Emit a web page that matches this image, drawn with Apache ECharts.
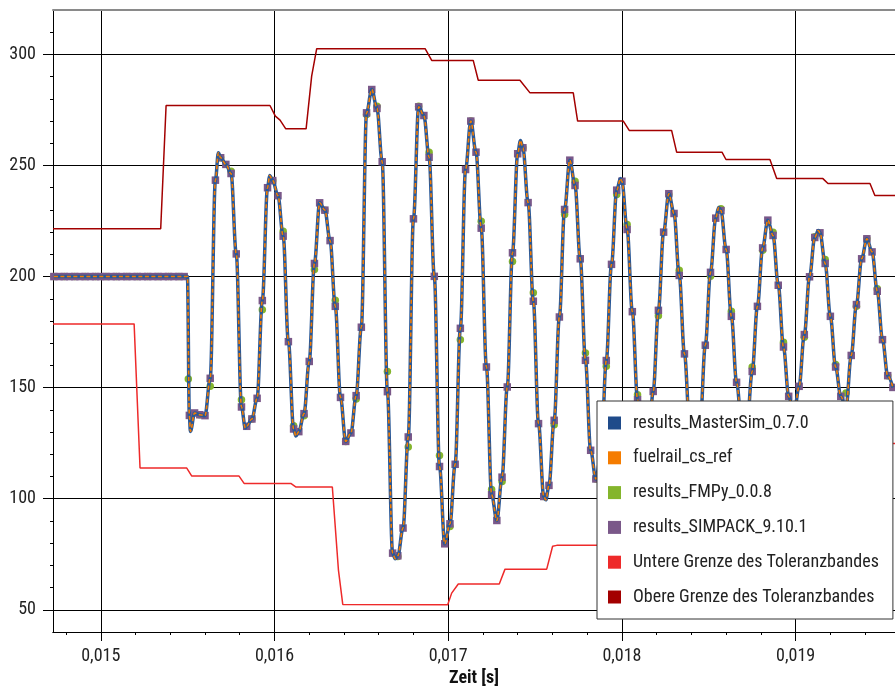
<!DOCTYPE html>
<html>
<head>
<meta charset="utf-8">
<script src="https://cdn.jsdelivr.net/npm/echarts@6/dist/echarts.min.js"></script>
<style>
  html, body { margin: 0; padding: 0; background: #fff; }
  #chart { width: 895px; height: 686px; }
</style>
</head>
<body>
<div id="chart"></div>
<script>
const FONT = '"Liberation Sans Narrow", "Roboto Condensed", Roboto, sans-serif'

// axis ticks
const xMajor = [0.015, 0.016, 0.017, 0.018, 0.019]
const xMinor = [0.0148, 0.0150, 0.0152, 0.0154, 0.0156, 0.0158, 0.0160, 0.0162, 0.0164, 0.0166, 0.0168, 0.0170,
  0.0172, 0.0174, 0.0176, 0.0178, 0.0180, 0.0182, 0.0184, 0.0186, 0.0188, 0.0190, 0.0192, 0.0194]
const yMajor = [50, 100, 150, 200, 250, 300]
const yMinor = [50, 60, 70, 80, 90, 100, 110, 120, 130, 140, 150, 160, 170, 180, 190, 200, 210, 220, 230, 240,
  250, 260, 270, 280, 290, 300, 310]
const cursorX = 0.017

// SIMPACK samples (squares)
const simT = [0.01473, 0.01476, 0.01479, 0.01482, 0.01485, 0.01488, 0.01491, 0.01494, 0.01497, 0.015, 0.01503,
  0.01506, 0.01509, 0.01512, 0.01515, 0.01518, 0.01521, 0.01524, 0.01527, 0.0153, 0.01533, 0.01536, 0.01539,
  0.01542, 0.01545, 0.01548,
  0.01551, 0.01554, 0.01557, 0.0156, 0.01563, 0.01566, 0.01569, 0.01572, 0.01575, 0.01578,
  0.01581, 0.01584, 0.01587, 0.0159, 0.01593, 0.01596, 0.01599, 0.01602, 0.01605, 0.01608,
  0.01611, 0.01614, 0.01617, 0.0162, 0.01623, 0.01626, 0.01629, 0.01632, 0.01635, 0.01638,
  0.01641, 0.01644, 0.01647, 0.0165, 0.01653, 0.01656, 0.01659, 0.01662, 0.01665, 0.01668,
  0.01671, 0.01674, 0.01677, 0.0168, 0.01683, 0.01686, 0.01689, 0.01692, 0.01695, 0.01698,
  0.01701, 0.01704, 0.01707, 0.0171, 0.01713, 0.01716, 0.01719, 0.01722, 0.01725, 0.01728,
  0.01731, 0.01734, 0.01737, 0.0174, 0.01743, 0.01746, 0.01749, 0.01752, 0.01755, 0.01758,
  0.01761, 0.01764, 0.01767, 0.0177, 0.01773, 0.01776, 0.01779, 0.01782, 0.01785, 0.01788,
  0.01791, 0.01794, 0.01797, 0.018, 0.01803, 0.01806, 0.01809, 0.01812, 0.01815, 0.01818,
  0.01821, 0.01824, 0.01827, 0.0183, 0.01833, 0.01836, 0.01839, 0.01842, 0.01845, 0.01848,
  0.01851, 0.01854, 0.01857, 0.0186, 0.01863, 0.01866, 0.01869, 0.01872, 0.01875, 0.01878,
  0.01881, 0.01884, 0.01887, 0.0189, 0.01893, 0.01896, 0.01899, 0.01902, 0.01905, 0.01908,
  0.01911, 0.01914, 0.01917, 0.0192, 0.01923, 0.01926, 0.01929, 0.01932, 0.01935, 0.01938,
  0.01941, 0.01944, 0.01947, 0.0195, 0.01953, 0.01956]
const simV = [200, 200, 200, 200, 200, 200, 200, 200, 200, 200, 200, 200, 200, 200, 200, 200, 200, 200, 200, 200,
  200, 200, 200, 200, 200, 200,
  137.5, 138.6, 137.8, 137.4, 154.2, 243.4, 253.5, 250.5, 246.4, 210.2,
  141.3, 132.6, 135.9, 145.2, 189.2, 240.0, 243.2, 236.4, 218.2, 170.7,
  131.4, 130.2, 138.3, 161.8, 205.9, 233.2, 229.9, 216.2, 186.6, 145.6,
  125.8, 129.6, 146.4, 177.2, 273.7, 284.2, 275.7, 251.7, 148.2, 75.5,
  74.3, 86.8, 127.8, 226.0, 276.4, 272.5, 253.7, 200.1, 114.5, 79.7,
  88.7, 115.5, 176.7, 248.2, 270.0, 256.0, 221.8, 159.3, 101.8, 90.2,
  109.7, 150.3, 210.7, 255.3, 258.0, 233.3, 188.9, 133.8, 101.0, 106.0,
  135.3, 181.8, 230.2, 252.4, 241.0, 208.0, 162.3, 121.8, 108.9, 119.8,
  162.2, 205.5, 238.9, 242.9, 221.2, 184.2, 144.6, 119.8, 121.2, 148.3,
  184.8, 220.0, 237.3, 228.4, 200.5, 165.2, 133.3, 122.5, 133.3, 169.1,
  201.9, 226.3, 229.7, 212.2, 182.1, 152.4, 133.3, 133.3, 157.3, 186.6,
  212.9, 225.4, 218.5, 196.1, 168.3, 146.1, 137.8, 150.6, 173.9, 199.9,
  217.6, 219.7, 205.9, 182.1, 159.3, 146.1, 141.0, 164.5, 187.4, 208.0,
  217.0, 211.1, 193.4, 171.6, 155.4, 150.1]

// extra turning points of the reference curve between samples
const peakT = [0.015499, 0.015516, 0.015677, 0.015832, 0.015972, 0.016123, 0.016695, 0.017416, 0.017562,
  0.017992, 0.018557, 0.019131]
const peakV = [200, 130.3, 255.7, 131.8, 245.5, 128.2, 73.0, 261.3, 99.5, 244.1, 231.1, 220.7]

// FMPy samples (dots)
const fmpyT = [0.01473, 0.01479, 0.01485, 0.01491, 0.01497, 0.01503, 0.01509, 0.01515, 0.01521, 0.01527, 0.01533,
  0.01539, 0.01545,
  0.015504, 0.01557, 0.01563, 0.01569, 0.01575, 0.01581, 0.01587, 0.01593, 0.01599, 0.01605,
  0.01611, 0.01617, 0.01623, 0.01629, 0.01635, 0.01641, 0.01647, 0.01653, 0.01659, 0.01665,
  0.01671, 0.01677, 0.01683, 0.01689, 0.01695, 0.01701, 0.01707, 0.01713, 0.01719, 0.01725,
  0.01731, 0.01737, 0.01743, 0.01749, 0.01755, 0.01761, 0.01767, 0.01773, 0.01779, 0.01785,
  0.01791, 0.01797, 0.01803, 0.01809, 0.01815, 0.01821, 0.01827, 0.01833, 0.01839, 0.01845,
  0.01851, 0.01857, 0.01863, 0.01869, 0.01875, 0.01881, 0.01887, 0.01893, 0.01899, 0.01905,
  0.01911, 0.01917, 0.01923, 0.01929, 0.01935, 0.01941, 0.01947, 0.01953]
const fmpyV = [200, 200, 200, 200, 200, 200, 200, 200, 200, 200, 200, 200, 200,
  153.9, 137.8, 150.6, 253.5, 247.4, 144.6, 135.9, 185.1, 243.2, 220.4,
  132.9, 137.4, 203.2, 229.9, 189.3, 125.8, 144.9, 273.0, 276.7, 157.3,
  74.0, 123.3, 276.7, 256.0, 119.5, 87.5, 171.6, 270.0, 224.9, 104.1,
  107.8, 206.8, 258.0, 192.7, 101.0, 133.3, 227.9, 242.9, 165.6, 108.9,
  159.6, 236.9, 223.4, 146.8, 121.2, 182.4, 236.9, 202.8, 133.3, 133.3,
  200.1, 230.5, 184.4, 133.3, 159.3, 211.8, 220.0, 170.4, 137.8, 172.7,
  217.9, 207.7, 160.4, 147.6, 186.6, 217.0, 194.5, 155.4]

// tolerance band
const lowT = [0.014725, 0.015192, 0.015226, 0.015495, 0.015524, 0.015796, 0.015825, 0.016094, 0.016122,
  0.016333, 0.016368, 0.016393, 0.016997, 0.017020, 0.017058, 0.017294, 0.017327, 0.017567, 0.017601,
  0.017625, 0.017860, 0.017890, 0.018130, 0.018160, 0.018400, 0.018430, 0.018670, 0.018700, 0.018940,
  0.018970, 0.019210, 0.019240, 0.019572]
const lowV = [178.7, 178.7, 113.8, 113.8, 110.2, 110.2, 106.9, 106.9, 105.3, 105.3, 68.0, 52.4, 52.3, 57.5,
  61.6, 61.6, 68.3, 68.3, 78.6, 79.0, 79.0, 86, 86, 94, 94, 101, 101, 108, 108, 115, 115, 124.8, 124.8]
const upT = [0.014725, 0.015345, 0.015376, 0.015974, 0.016005, 0.016032, 0.016065, 0.016182, 0.016214,
  0.016243, 0.016867, 0.016905, 0.017144, 0.017173, 0.017413, 0.017471, 0.017720, 0.017745, 0.018008,
  0.018042, 0.018286, 0.018315, 0.018576, 0.018599, 0.018852, 0.018891, 0.019157, 0.019186, 0.019428,
  0.019456, 0.019572]
const upV = [221.5, 221.5, 277.0, 277.0, 272.2, 270.4, 266.5, 266.5, 290.2, 302.6, 302.6, 297.3, 297.3,
  288.4, 288.4, 282.7, 282.7, 270.0, 270.0, 265.8, 265.8, 256.0, 256.0, 252.7, 252.7, 244.1, 244.1,
  241.9, 241.9, 236.5, 236.5]

const zip = (t, v) => t.map((x, i) => [x, v[i]])
const curve = zip(simT, simV).concat(zip(peakT, peakV)).sort((a, b) => a[0] - b[0])

const xMin = 0.014725
const xMax = 0.019572

const chart = echarts.init(document.getElementById('chart'))

const option = {
  animation: false,
  backgroundColor: '#fff',
  textStyle: { fontFamily: FONT },
  grid: [
    { left: 53, top: 10, right: 0, bottom: 54, outerBoundsMode: 'none', containLabel: false },
    { left: 53, top: 10, right: 0, bottom: 54, outerBoundsMode: 'none', containLabel: false }
  ],
  legend: {
    orient: 'vertical',
    left: 597,
    top: 401,
    icon: 'rect',
    itemWidth: 13,
    itemHeight: 13,
    itemGap: 16.8,
    padding: [13, 14, 13, 11],
    backgroundColor: '#fff',
    borderColor: '#333',
    borderWidth: 1,
    borderRadius: 0,
    z: 20,
    textStyle: { fontFamily: FONT, fontSize: 18, color: '#222', lineHeight: 18, padding: [0, 0, 0, 7] },
    data: ['results_MasterSim_0.7.0', 'fuelrail_cs_ref', 'results_FMPy_0.0.8', 'results_SIMPACK_9.10.1',
      'Untere Grenze des Toleranzbandes', 'Obere Grenze des Toleranzbandes']
  },
  xAxis: [
    {
      type: 'value', gridIndex: 0, min: xMin, max: xMax,
      axisLine: { lineStyle: { color: '#000', width: 1 } },
      axisTick: { customValues: xMinor, length: 3, lineStyle: { color: '#000' } },
      axisLabel: { show: false },
      splitLine: { show: false }
    },
    {
      type: 'value', gridIndex: 1, min: xMin, max: xMax,
      name: 'Zeit [s]', nameLocation: 'middle', nameGap: 35,
      nameTextStyle: { fontFamily: FONT, fontSize: 18, fontWeight: 'bold', color: '#111' },
      axisLine: { lineStyle: { color: '#000', width: 1 } },
      axisTick: { customValues: xMajor, length: 9, lineStyle: { color: '#000' } },
      axisLabel: {
        customValues: xMajor, margin: 15, fontSize: 18, color: '#222', fontFamily: FONT,
        formatter: v => v.toFixed(3).replace('.', ',')
      },
      splitLine: { show: true, lineStyle: { color: '#000', width: 1 } }
    },
    {
      type: 'value', gridIndex: 1, min: xMin, max: xMax, position: 'top',
      axisLine: { lineStyle: { color: '#8a8a8a', width: 2 } },
      axisTick: { show: false }, axisLabel: { show: false }, splitLine: { show: false }
    }
  ],
  yAxis: [
    {
      type: 'value', gridIndex: 0, min: 40, max: 320,
      axisLine: { show: true, lineStyle: { color: '#000', width: 1 } },
      axisTick: { customValues: yMinor, length: 3, lineStyle: { color: '#000' } },
      axisLabel: { show: false },
      splitLine: { show: false }
    },
    {
      type: 'value', gridIndex: 1, min: 40, max: 320,
      axisLine: { show: true, lineStyle: { color: '#000', width: 1 } },
      axisTick: { customValues: yMajor, length: 10, lineStyle: { color: '#000' } },
      axisLabel: { customValues: yMajor, margin: 17, fontSize: 18, color: '#222', fontFamily: FONT },
      splitLine: { show: true, lineStyle: { color: '#000', width: 1 } }
    }
  ],
  series: [
    {
      name: 'Untere Grenze des Toleranzbandes', type: 'line', xAxisIndex: 0, yAxisIndex: 0,
      data: zip(lowT, lowV), showSymbol: false,
      lineStyle: { color: '#ee2a2a', width: 1.5 }, itemStyle: { color: '#ee2a2a' }
    },
    {
      name: 'Obere Grenze des Toleranzbandes', type: 'line', xAxisIndex: 0, yAxisIndex: 0,
      data: zip(upT, upV), showSymbol: false,
      lineStyle: { color: '#a30000', width: 1.5 }, itemStyle: { color: '#a30000' }
    },
    {
      name: 'results_MasterSim_0.7.0', type: 'line', xAxisIndex: 0, yAxisIndex: 0,
      data: curve, showSymbol: false, smooth: 0.35, smoothMonotone: 'x',
      lineStyle: { color: '#2a5896', width: 3.5 }, itemStyle: { color: '#1f4b8a' },
      markLine: {
        silent: true, symbol: ['none', 'none'], label: { show: false },
        lineStyle: { color: '#8a8a8a', width: 2, type: 'solid' },
        data: [{ xAxis: cursorX }]
      }
    },
    {
      name: 'fuelrail_cs_ref', type: 'line', xAxisIndex: 0, yAxisIndex: 0,
      data: curve, showSymbol: false, smooth: 0.35, smoothMonotone: 'x',
      lineStyle: { color: '#f57c00', width: 1.6, type: [4, 2.5] }, itemStyle: { color: '#f57c00' }
    },
    {
      name: 'results_FMPy_0.0.8', type: 'scatter', xAxisIndex: 0, yAxisIndex: 0,
      data: zip(fmpyT, fmpyV), symbol: 'circle', symbolSize: 7.5,
      itemStyle: { color: '#84b52c', opacity: 1 }
    },
    {
      name: 'results_SIMPACK_9.10.1', type: 'scatter', xAxisIndex: 0, yAxisIndex: 0,
      data: zip(simT, simV), symbol: 'rect', symbolSize: 7.5,
      itemStyle: { color: '#7a5889', opacity: 1 }
    }
  ]
}

chart.setOption(option)
</script>
</body>
</html>
